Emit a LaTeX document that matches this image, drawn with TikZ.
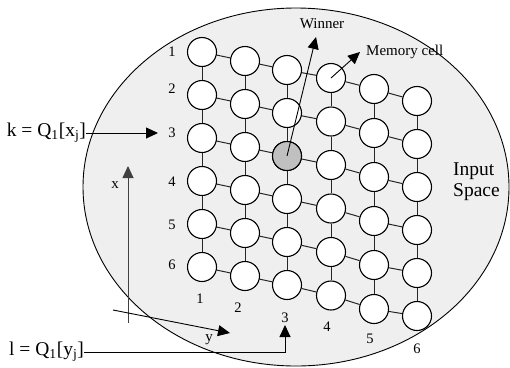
\documentclass[tikz,border=0pt]{standalone}
\usepackage{fontspec}
\setmainfont{Liberation Serif}
\usetikzlibrary{arrows.meta}
\definecolor{ellgray}{HTML}{EFEFEF}
\definecolor{wingray}{HTML}{C0C0C0}
\begin{document}
\begin{tikzpicture}[x=1pt,y=-1pt,
  cell/.style={circle,draw=black,line width=1.1pt,fill=white,minimum size=29pt,inner sep=0pt},
  link/.style={draw=black!85,line width=1pt},
  tri/.style={-{Triangle[length=12pt,width=11pt]},line width=0.9pt},
  num/.style={font=\fontsize{14.5}{16}\selectfont,inner sep=0pt},
  lbl/.style={font=\fontsize{15}{17}\selectfont,inner sep=0pt},
  big/.style={font=\fontsize{19.5}{21}\selectfont,inner sep=0pt}]
\useasboundingbox (0,0) rectangle (510,367);
\path[fill=ellgray,draw=black,line width=0.9pt] (296,187) ellipse [x radius=213pt,y radius=179pt];
% grid of cells
\foreach \c/\x/\y/\d in {1/202/52/43, 2/245/61/43, 3/287/70/43, 4/331/78/43.5, 5/374/89/44, 6/417/101/43} {
  \foreach \r in {1,...,6} {
    \node[cell] (n\c\r) at (\x, {\y+\d*(\r-1)}) {};
  }
}
\node[cell,fill=wingray] (win) at (n33) {};
% links
\foreach \c in {1,...,6} {
  \foreach \r [evaluate=\r as \rn using int(\r+1)] in {1,...,5} {
    \draw[link] (n\c\r) -- (n\c\rn);
  }
}
\foreach \c [evaluate=\c as \cn using int(\c+1)] in {1,...,5} {
  \foreach \r in {1,...,6} {
    \draw[link] (n\c\r) -- (n\cn\r);
  }
}
% row labels
\foreach \r/\y in {1/52,2/89,3/133,4/182,5/225,6/265} {
  \node[num] (rl\r) at (172,\y) {\r};
}
% column labels
\foreach \c/\x/\y in {1/200/299,2/238/308,3/285/318,4/327/327,5/370/339,6/417/349} {
  \node[num] (cl\c) at (\x,\y) {\c};
}
% k arrow
\node[big,anchor=east] (k) at (86,133) {k = Q\textsubscript{1}[x\textsubscript{j}]};
\coordinate (kt) at (158,133);
\draw[tri] (k.east) -- (kt);
% l arrow
\node[big,anchor=east] (l) at (84,352) {l = Q\textsubscript{1}[y\textsubscript{j}]};
\coordinate (lt) at (285,325);
\draw[tri] (l.east) -| (lt);
% x axis
\coordinate (xa) at (128,323);
\coordinate (xb) at (128,166);
\draw[tri,draw=black!75] (xa) -- (xb);
\node[lbl] (xl) at (115,185) {x};
% y axis
\coordinate (ya) at (113,310);
\coordinate (yb) at (230,333);
\draw[tri] (ya) -- (yb);
\node[lbl] (yl) at (209,340) {y};
% winner
\coordinate (wtip) at (316,37);
\draw[tri] (win.center) -- (wtip);
\node[lbl] (wt) at (322,24) {Winner};
% memory cell
\coordinate (mtip) at (360,52);
\draw[tri] (n41.center) -- (mtip);
\node[lbl,anchor=west] (mt) at (366,52) {Memory cell};
% input space
\node[big,anchor=west] (in1) at (453,171) {Input};
\node[big,anchor=west] (in2) at (453,192) {Space};
\end{tikzpicture}
\end{document}
